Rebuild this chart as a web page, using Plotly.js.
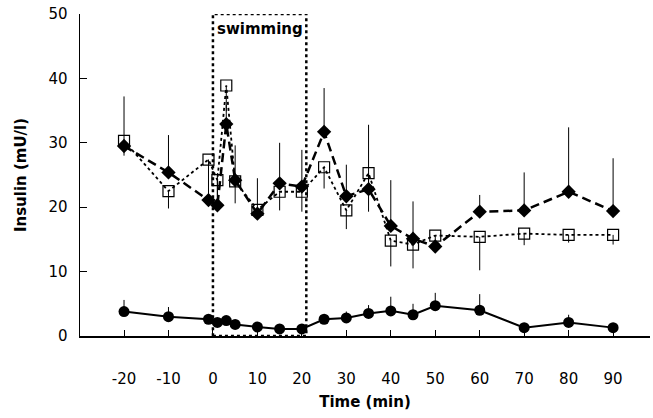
<!DOCTYPE html>
<html><head><meta charset="utf-8">
<script src="https://cdn.plot.ly/plotly-3.0.1.min.js"></script>
<style>html,body{margin:0;padding:0;background:#fff}#chart{width:653px;height:418px}</style>
</head><body><div id="chart"></div>
<script>
// time points (min)
const times = [-20, -10, -1, 1, 3, 5, 10, 15, 20, 25, 30, 35, 40, 45, 50, 60, 70, 80, 90];
// series with filled diamonds (dashed line), upper error
const diamondVals = [29.5, 25.4, 21.1, 20.3, 32.9, 24.2, 19.0, 23.7, 23.2, 31.7, 21.7, 22.8, 17.1, 15.1, 13.9, 19.3, 19.5, 22.4, 19.4];
const diamondErr  = [7.7, 5.8, 0, 5, 3, 5.4, 5.5, 6.3, 5.7, 6.8, 4.9, 10, 7.1, 5.8, 0, 2.6, 5.9, 10, 8.2];
// series with open squares (dotted line), lower error
const squareVals = [30.3, 22.5, 27.4, 24.2, 38.9, 24.0, 19.6, 22.4, 22.4, 26.2, 19.5, 25.3, 14.8, 14.2, 15.6, 15.4, 15.9, 15.7, 15.7];
const squareErr  = [2.3, 2.7, 5.7, 3, 4, 3.4, 1, 2.9, 3.1, 3.3, 2.9, 6, 4, 3.7, 1, 5.2, 1.8, 1.2, 1.5];
// series with filled circles (solid line), upper error
const circleVals = [3.8, 3.0, 2.6, 2.1, 2.4, 1.8, 1.4, 1.1, 1.1, 2.6, 2.8, 3.5, 3.9, 3.3, 4.7, 4.0, 1.3, 2.1, 1.3];
const circleErr  = [1.8, 1.5, 0, 0, 0, 0, 0, 0, 0, 0, 1.0, 1.3, 2.2, 1.7, 2.0, 2.5, 0, 1.2, 0];
const xTicks = [-20, -10, 0, 10, 20, 30, 40, 50, 60, 70, 80, 90];
const yTicks = [0, 10, 20, 30, 40, 50];
const swimStart = 0, swimEnd = 21, swimLabel = 'swimming';

const zeros = times.map(() => 0);
const traces = [
  {x: times, y: squareVals, type: 'scatter', mode: 'lines+markers',
   line: {color: '#000', width: 1.8, dash: 'dot'},
   marker: {symbol: 'square-open', size: 11, color: '#000', line: {width: 1.2, color: '#000'}},
   error_y: {type: 'data', symmetric: false, array: zeros, arrayminus: squareErr, color: '#000', thickness: 1, width: 0}},
  {x: times, y: diamondVals, type: 'scatter', mode: 'lines+markers',
   line: {color: '#000', width: 2.5, dash: '9px,5px'},
   marker: {symbol: 'diamond', size: 11, color: '#000'},
   error_y: {type: 'data', symmetric: false, array: diamondErr, arrayminus: zeros, color: '#000', thickness: 1, width: 0}},
  {x: times, y: circleVals, type: 'scatter', mode: 'lines+markers',
   line: {color: '#000', width: 2},
   marker: {symbol: 'circle', size: 11, color: '#000'},
   error_y: {type: 'data', symmetric: false, array: circleErr, arrayminus: zeros, color: '#000', thickness: 1, width: 0}}
];

const layout = {
  width: 653, height: 418,
  margin: {l: 80, r: 3, t: 14, b: 82},
  paper_bgcolor: '#fff', plot_bgcolor: '#fff',
  showlegend: false,
  font: {family: 'DejaVu Sans, sans-serif', color: '#000', size: 15},
  xaxis: {
    range: [-29.9, 98.3], tickvals: xTicks, ticktext: xTicks.map(String),
    ticks: 'inside', ticklen: 6, tickcolor: '#000', tickwidth: 1,
    showline: true, linecolor: '#000', linewidth: 1.5, showgrid: false, zeroline: false,
    ticklabelstandoff: 28, tickfont: {size: 15},
    title: {text: '<b>Time (min)</b>', font: {size: 15}, standoff: 10}
  },
  yaxis: {
    range: [0, 50], tickvals: yTicks, ticktext: yTicks.map(String),
    ticks: 'inside', ticklen: 7, tickcolor: '#000', tickwidth: 1,
    showline: true, linecolor: '#000', linewidth: 1.5, showgrid: false, zeroline: false,
    ticklabelstandoff: 8, tickfont: {size: 15},
    title: {text: '<b>Insulin (mU/l)</b>', font: {size: 15}, standoff: 18}
  },
  shapes: [{type: 'rect', xref: 'x', yref: 'y', x0: swimStart, x1: swimEnd, y0: 0, y1: 50,
            line: {color: '#000', width: 2.5, dash: 'dot'}}],
  annotations: [{x: (swimStart + swimEnd) / 2, y: 47.6, xref: 'x', yref: 'y', text: '<b>' + swimLabel + '</b>',
                 showarrow: false, font: {size: 15, color: '#000'}}]
};
Plotly.newPlot('chart', traces, layout, {displayModeBar: false, staticPlot: true});
</script></body></html>
